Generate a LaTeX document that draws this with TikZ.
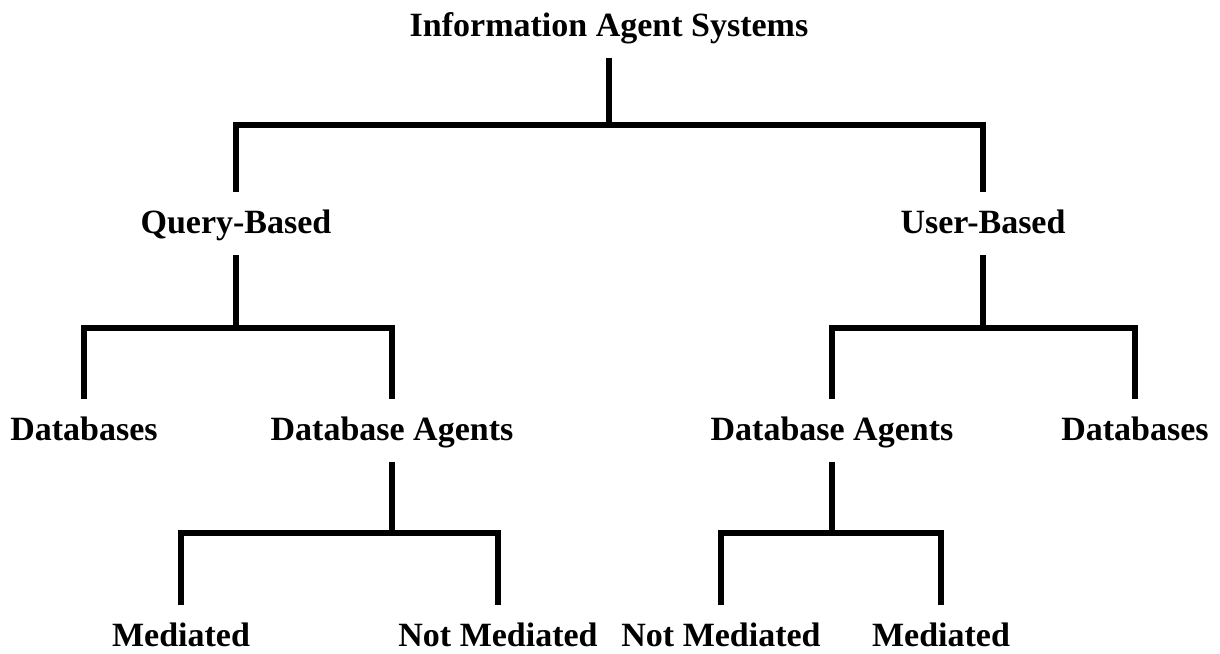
\documentclass[tikz,border=0pt]{standalone}
\usepackage{fontspec}
\setmainfont{Liberation Serif}
\begin{document}
\begin{tikzpicture}[x=1pt,y=-1pt,
  lbl/.style={font=\fontsize{34}{40}\selectfont\bfseries, anchor=base, inner sep=0pt, text height=22pt, text depth=3pt, outer ysep=19pt},
  tree/.style={line width=5.5pt, line join=miter}]
\useasboundingbox (0,0) rectangle (1220,653);
\node[lbl] (root) at (609,36) {Information Agent Systems};
\node[lbl] (qb) at (236,233) {Query-Based};
\node[lbl] (ub) at (983,233) {User-Based};
\node[lbl] (db1) at (84,440) {Databases};
\node[lbl] (da1) at (392,440) {Database Agents};
\node[lbl] (da2) at (832,440) {Database Agents};
\node[lbl] (db2) at (1135,440) {Databases};
\node[lbl] (m1) at (181,646) {Mediated};
\node[lbl] (nm1) at (498,646) {Not Mediated};
\node[lbl] (nm2) at (721,646) {Not Mediated};
\node[lbl] (m2) at (941,646) {Mediated};
\coordinate (j0) at (609,125);
\coordinate (j1) at (236,328);
\coordinate (j2) at (983,328);
\coordinate (j3) at (392,533);
\coordinate (j4) at (832,533);
\draw[tree] (root.south) -- (j0);
\draw[tree] (qb.north) |- (j0) -| (ub.north);
\draw[tree] (qb.south) -- (j1);
\draw[tree] (db1.north) |- (j1) -| (da1.north);
\draw[tree] (ub.south) -- (j2);
\draw[tree] (da2.north) |- (j2) -| (db2.north);
\draw[tree] (da1.south) -- (j3);
\draw[tree] (m1.north) |- (j3) -| (nm1.north);
\draw[tree] (da2.south) -- (j4);
\draw[tree] (nm2.north) |- (j4) -| (m2.north);
\end{tikzpicture}
\end{document}
